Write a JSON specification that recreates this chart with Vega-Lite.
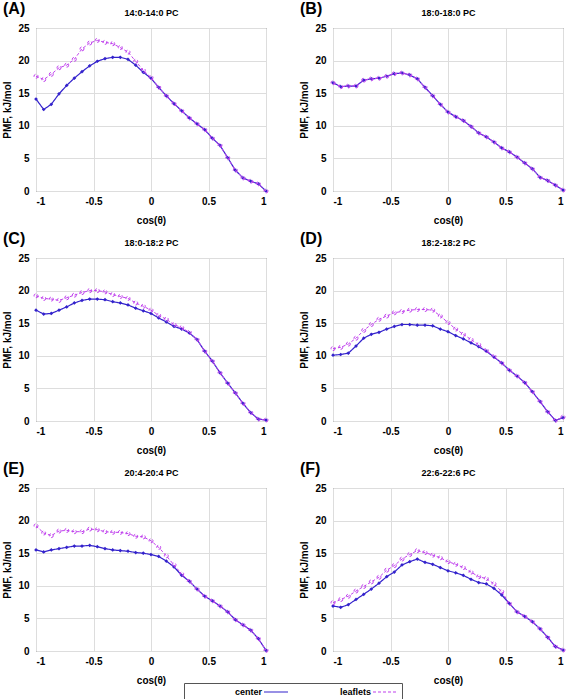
{
  "$schema": "https://vega.github.io/schema/vega-lite/v6.json",
  "padding": {"left": 2, "top": 0, "right": 4, "bottom": 0},
  "config": {
    "font": "Liberation Sans",
    "view": {"stroke": "#555", "strokeWidth": 1},
    "axis": {"labelFont": "Liberation Sans", "labelFontWeight": "bold", "labelFontSize": 10, "labelColor": "#000", "titleFont": "Liberation Sans", "titleFontWeight": "bold", "titleFontSize": 10, "titleColor": "#000", "gridColor": "#dddddd", "ticks": false, "domain": false},
    "axisX": {"labelPadding": 5, "titlePadding": 9},
    "axisY": {"labelPadding": 7, "titlePadding": 5},
    "title": {"anchor": "start", "frame": "group", "fontSize": 16, "fontWeight": "bold", "font": "Liberation Sans", "color": "#000", "dx": -33, "offset": -9},
    "legend": {"orient": "none", "legendX": 148, "legendY": 655, "direction": "horizontal", "strokeColor": "#555", "padding": 2, "labelFontWeight": "bold", "labelFontSize": 9, "labelColor": "#000", "columnPadding": 4, "symbolType": "M-2,0H2", "symbolSize": 144, "symbolOffset": 83, "labelOffset": -21, "labelAlign": "right", "symbolStrokeWidth": 1.2}
  },
  "datasets": {
    "A": [
      {"x": -1, "center": 14.1, "leaflets": 17.6}, {"x": -0.933, "center": 12.5, "leaflets": 17.1}, {"x": -0.867, "center": 13.3, "leaflets": 17.9}, {"x": -0.8, "center": 14.9, "leaflets": 18.9}, {"x": -0.733, "center": 16.2, "leaflets": 19.3}, {"x": -0.667, "center": 17.3, "leaflets": 20.2}, {"x": -0.6, "center": 18.3, "leaflets": 21.8}, {"x": -0.533, "center": 19.2, "leaflets": 22.7}, {"x": -0.467, "center": 19.9, "leaflets": 23.1}, {"x": -0.4, "center": 20.3, "leaflets": 22.8}, {"x": -0.333, "center": 20.5, "leaflets": 22.6}, {"x": -0.267, "center": 20.5, "leaflets": 22.0}, {"x": -0.2, "center": 20.2, "leaflets": 21.3}, {"x": -0.133, "center": 19.3, "leaflets": 19.9}, {"x": -0.067, "center": 18.2, "leaflets": 18.5}, {"x": 0, "center": 17.3, "leaflets": 17.4}, {"x": 0.067, "center": 15.9, "leaflets": 15.9}, {"x": 0.133, "center": 14.6, "leaflets": 14.6}, {"x": 0.2, "center": 13.4, "leaflets": 13.4}, {"x": 0.267, "center": 12.3, "leaflets": 12.3}, {"x": 0.333, "center": 11.2, "leaflets": 11.2}, {"x": 0.4, "center": 10.3, "leaflets": 10.3}, {"x": 0.467, "center": 9.4, "leaflets": 9.4}, {"x": 0.533, "center": 8.1, "leaflets": 8.1}, {"x": 0.6, "center": 7.0, "leaflets": 7.0}, {"x": 0.667, "center": 5.1, "leaflets": 5.1}, {"x": 0.733, "center": 3.2, "leaflets": 3.2}, {"x": 0.8, "center": 2.0, "leaflets": 2.0}, {"x": 0.867, "center": 1.5, "leaflets": 1.5}, {"x": 0.933, "center": 1.1, "leaflets": 1.1}, {"x": 1, "center": 0.0, "leaflets": 0.0}
    ],
    "B": [
      {"x": -1, "center": 16.6, "leaflets": 16.6}, {"x": -0.933, "center": 16.0, "leaflets": 16.0}, {"x": -0.867, "center": 16.1, "leaflets": 16.1}, {"x": -0.8, "center": 16.1, "leaflets": 16.1}, {"x": -0.733, "center": 17.0, "leaflets": 17.0}, {"x": -0.667, "center": 17.2, "leaflets": 17.2}, {"x": -0.6, "center": 17.3, "leaflets": 17.3}, {"x": -0.533, "center": 17.6, "leaflets": 17.6}, {"x": -0.467, "center": 18.0, "leaflets": 18.0}, {"x": -0.4, "center": 18.1, "leaflets": 18.1}, {"x": -0.333, "center": 17.8, "leaflets": 17.8}, {"x": -0.267, "center": 17.2, "leaflets": 17.2}, {"x": -0.2, "center": 15.9, "leaflets": 15.9}, {"x": -0.133, "center": 14.6, "leaflets": 14.6}, {"x": -0.067, "center": 13.3, "leaflets": 13.3}, {"x": 0, "center": 12.1, "leaflets": 12.1}, {"x": 0.067, "center": 11.4, "leaflets": 11.4}, {"x": 0.133, "center": 10.8, "leaflets": 10.8}, {"x": 0.2, "center": 9.9, "leaflets": 9.9}, {"x": 0.267, "center": 8.9, "leaflets": 8.9}, {"x": 0.333, "center": 8.3, "leaflets": 8.3}, {"x": 0.4, "center": 7.5, "leaflets": 7.5}, {"x": 0.467, "center": 6.6, "leaflets": 6.6}, {"x": 0.533, "center": 6.0, "leaflets": 6.0}, {"x": 0.6, "center": 5.2, "leaflets": 5.2}, {"x": 0.667, "center": 4.3, "leaflets": 4.3}, {"x": 0.733, "center": 3.4, "leaflets": 3.4}, {"x": 0.8, "center": 2.1, "leaflets": 2.1}, {"x": 0.867, "center": 1.6, "leaflets": 1.6}, {"x": 0.933, "center": 0.9, "leaflets": 0.9}, {"x": 1, "center": 0.15, "leaflets": 0.15}
    ],
    "C": [
      {"x": -1, "center": 17.0, "leaflets": 19.2}, {"x": -0.933, "center": 16.4, "leaflets": 18.8}, {"x": -0.867, "center": 16.5, "leaflets": 18.7}, {"x": -0.8, "center": 17.0, "leaflets": 18.5}, {"x": -0.733, "center": 17.5, "leaflets": 18.9}, {"x": -0.667, "center": 18.1, "leaflets": 19.3}, {"x": -0.6, "center": 18.5, "leaflets": 19.7}, {"x": -0.533, "center": 18.7, "leaflets": 20.0}, {"x": -0.467, "center": 18.7, "leaflets": 20.0}, {"x": -0.4, "center": 18.6, "leaflets": 19.8}, {"x": -0.333, "center": 18.3, "leaflets": 19.4}, {"x": -0.267, "center": 18.1, "leaflets": 19.1}, {"x": -0.2, "center": 17.8, "leaflets": 18.8}, {"x": -0.133, "center": 17.3, "leaflets": 18.1}, {"x": -0.067, "center": 16.9, "leaflets": 17.6}, {"x": 0, "center": 16.5, "leaflets": 17.0}, {"x": 0.067, "center": 15.8, "leaflets": 16.2}, {"x": 0.133, "center": 15.2, "leaflets": 15.6}, {"x": 0.2, "center": 14.5, "leaflets": 14.8}, {"x": 0.267, "center": 14.1, "leaflets": 14.3}, {"x": 0.333, "center": 13.5, "leaflets": 13.6}, {"x": 0.4, "center": 12.5, "leaflets": 12.5}, {"x": 0.467, "center": 10.7, "leaflets": 10.7}, {"x": 0.533, "center": 9.2, "leaflets": 9.2}, {"x": 0.6, "center": 7.4, "leaflets": 7.4}, {"x": 0.667, "center": 5.8, "leaflets": 5.8}, {"x": 0.733, "center": 4.3, "leaflets": 4.3}, {"x": 0.8, "center": 2.7, "leaflets": 2.7}, {"x": 0.867, "center": 1.3, "leaflets": 1.3}, {"x": 0.933, "center": 0.3, "leaflets": 0.3}, {"x": 1, "center": 0.15, "leaflets": 0.15}
    ],
    "D": [
      {"x": -1, "center": 10.1, "leaflets": 11.1}, {"x": -0.933, "center": 10.2, "leaflets": 11.3}, {"x": -0.867, "center": 10.4, "leaflets": 11.8}, {"x": -0.8, "center": 11.5, "leaflets": 12.7}, {"x": -0.733, "center": 12.7, "leaflets": 13.9}, {"x": -0.667, "center": 13.3, "leaflets": 14.8}, {"x": -0.6, "center": 13.6, "leaflets": 15.6}, {"x": -0.533, "center": 14.1, "leaflets": 16.1}, {"x": -0.467, "center": 14.5, "leaflets": 16.6}, {"x": -0.4, "center": 14.8, "leaflets": 16.8}, {"x": -0.333, "center": 14.8, "leaflets": 17.0}, {"x": -0.267, "center": 14.7, "leaflets": 17.1}, {"x": -0.2, "center": 14.7, "leaflets": 17.1}, {"x": -0.133, "center": 14.6, "leaflets": 17.0}, {"x": -0.067, "center": 14.1, "leaflets": 16.1}, {"x": 0, "center": 13.7, "leaflets": 15.1}, {"x": 0.067, "center": 13.1, "leaflets": 14.1}, {"x": 0.133, "center": 12.6, "leaflets": 13.3}, {"x": 0.2, "center": 12.0, "leaflets": 12.5}, {"x": 0.267, "center": 11.4, "leaflets": 11.7}, {"x": 0.333, "center": 10.7, "leaflets": 10.8}, {"x": 0.4, "center": 9.8, "leaflets": 9.9}, {"x": 0.467, "center": 8.9, "leaflets": 8.9}, {"x": 0.533, "center": 7.8, "leaflets": 7.8}, {"x": 0.6, "center": 6.9, "leaflets": 6.9}, {"x": 0.667, "center": 5.9, "leaflets": 5.9}, {"x": 0.733, "center": 4.5, "leaflets": 4.5}, {"x": 0.8, "center": 3.0, "leaflets": 3.0}, {"x": 0.867, "center": 1.4, "leaflets": 1.4}, {"x": 0.933, "center": 0.1, "leaflets": 0.1}, {"x": 1, "center": 0.5, "leaflets": 0.6}
    ],
    "E": [
      {"x": -1, "center": 15.5, "leaflets": 19.2}, {"x": -0.933, "center": 15.2, "leaflets": 18.1}, {"x": -0.867, "center": 15.5, "leaflets": 17.7}, {"x": -0.8, "center": 15.7, "leaflets": 18.4}, {"x": -0.733, "center": 15.9, "leaflets": 18.5}, {"x": -0.667, "center": 16.1, "leaflets": 18.3}, {"x": -0.6, "center": 16.1, "leaflets": 18.3}, {"x": -0.533, "center": 16.2, "leaflets": 18.7}, {"x": -0.467, "center": 16.0, "leaflets": 18.6}, {"x": -0.4, "center": 15.7, "leaflets": 18.3}, {"x": -0.333, "center": 15.5, "leaflets": 18.2}, {"x": -0.267, "center": 15.4, "leaflets": 18.2}, {"x": -0.2, "center": 15.3, "leaflets": 18.0}, {"x": -0.133, "center": 15.1, "leaflets": 17.6}, {"x": -0.067, "center": 15.0, "leaflets": 17.5}, {"x": 0, "center": 14.8, "leaflets": 16.9}, {"x": 0.067, "center": 14.5, "leaflets": 15.9}, {"x": 0.133, "center": 13.8, "leaflets": 14.6}, {"x": 0.2, "center": 12.9, "leaflets": 13.2}, {"x": 0.267, "center": 11.6, "leaflets": 11.8}, {"x": 0.333, "center": 10.7, "leaflets": 10.7}, {"x": 0.4, "center": 9.5, "leaflets": 9.5}, {"x": 0.467, "center": 8.4, "leaflets": 8.4}, {"x": 0.533, "center": 7.7, "leaflets": 7.7}, {"x": 0.6, "center": 6.9, "leaflets": 6.9}, {"x": 0.667, "center": 6.0, "leaflets": 6.0}, {"x": 0.733, "center": 4.8, "leaflets": 4.8}, {"x": 0.8, "center": 4.0, "leaflets": 4.0}, {"x": 0.867, "center": 3.2, "leaflets": 3.2}, {"x": 0.933, "center": 1.9, "leaflets": 1.9}, {"x": 1, "center": 0.1, "leaflets": 0.1}
    ],
    "F": [
      {"x": -1, "center": 6.9, "leaflets": 7.4}, {"x": -0.933, "center": 6.7, "leaflets": 7.9}, {"x": -0.867, "center": 7.1, "leaflets": 8.4}, {"x": -0.8, "center": 7.9, "leaflets": 9.2}, {"x": -0.733, "center": 8.7, "leaflets": 9.9}, {"x": -0.667, "center": 9.5, "leaflets": 10.6}, {"x": -0.6, "center": 10.4, "leaflets": 11.3}, {"x": -0.533, "center": 11.4, "leaflets": 12.4}, {"x": -0.467, "center": 12.1, "leaflets": 13.1}, {"x": -0.4, "center": 13.2, "leaflets": 14.1}, {"x": -0.333, "center": 13.7, "leaflets": 14.8}, {"x": -0.267, "center": 14.1, "leaflets": 15.4}, {"x": -0.2, "center": 13.6, "leaflets": 15.1}, {"x": -0.133, "center": 13.3, "leaflets": 14.7}, {"x": -0.067, "center": 12.8, "leaflets": 14.3}, {"x": 0, "center": 12.3, "leaflets": 13.7}, {"x": 0.067, "center": 12.0, "leaflets": 13.3}, {"x": 0.133, "center": 11.6, "leaflets": 12.8}, {"x": 0.2, "center": 11.0, "leaflets": 12.1}, {"x": 0.267, "center": 10.5, "leaflets": 11.4}, {"x": 0.333, "center": 10.3, "leaflets": 11.1}, {"x": 0.4, "center": 9.6, "leaflets": 10.3}, {"x": 0.467, "center": 8.6, "leaflets": 9.1}, {"x": 0.533, "center": 7.3, "leaflets": 7.3}, {"x": 0.6, "center": 6.0, "leaflets": 6.0}, {"x": 0.667, "center": 5.3, "leaflets": 5.3}, {"x": 0.733, "center": 4.5, "leaflets": 4.5}, {"x": 0.8, "center": 3.4, "leaflets": 3.4}, {"x": 0.867, "center": 2.1, "leaflets": 2.1}, {"x": 0.933, "center": 0.7, "leaflets": 0.7}, {"x": 1, "center": 0.15, "leaflets": 0.15}
    ]
  },
  "columns": 2,
  "bounds": "flush",
  "spacing": {"row": 67, "column": 67},
  "resolve": {"scale": {"color": "shared", "strokeDash": "shared"}, "legend": {"color": "shared", "strokeDash": "shared"}},
  "concat": [
    {
      "title": {"text": "(A)"}, "width": 230, "height": 163, "data": {"name": "A"},
      "transform": [{"fold": ["center", "leaflets"], "as": ["series", "pmf"]}],
      "layer": [
        {"transform": [{"filter": "datum.series === 'center'"}],
         "mark": {"type": "line", "strokeWidth": 1.2, "point": {"filled": true, "shape": "diamond", "size": 14}},
         "encoding": {
           "x": {"field": "x", "type": "quantitative", "scale": {"domain": [-1, 1]}, "axis": {"values": [-1, -0.5, 0, 0.5, 1], "labelExpr": "datum.value + ''", "title": "cos(θ)"}},
           "y": {"field": "pmf", "type": "quantitative", "scale": {"domain": [0, 25]}, "axis": {"values": [0, 5, 10, 15, 20, 25], "title": "PMF, kJ/mol"}},
           "color": {"field": "series", "type": "nominal", "scale": {"domain": ["center", "leaflets"], "range": ["#3322cc", "#c040ee"]}, "legend": {"title": null}},
           "strokeDash": {"field": "series", "type": "nominal", "scale": {"domain": ["center", "leaflets"], "range": [[1, 0], [3, 2]]}, "legend": {"title": null}}
         }},
        {"transform": [{"filter": "datum.series === 'leaflets'"}],
         "mark": {"type": "line", "strokeWidth": 1, "point": {"filled": false, "shape": "circle", "size": 16, "strokeWidth": 1}},
         "encoding": {
           "x": {"field": "x", "type": "quantitative", "scale": {"domain": [-1, 1]}, "axis": {"orient": "top", "labels": false, "grid": false, "title": "14:0-14:0 PC", "titleFontSize": 9, "titlePadding": 11}},
           "y": {"field": "pmf", "type": "quantitative", "scale": {"domain": [0, 25]}, "axis": {"values": [0, 5, 10, 15, 20, 25], "title": "PMF, kJ/mol"}},
           "color": {"field": "series", "type": "nominal", "scale": {"domain": ["center", "leaflets"], "range": ["#3322cc", "#c040ee"]}, "legend": {"title": null}},
           "strokeDash": {"field": "series", "type": "nominal", "scale": {"domain": ["center", "leaflets"], "range": [[1, 0], [3, 2]]}, "legend": {"title": null}}
         }}
      ],
      "resolve": {"scale": {"x": "independent"}}
    },
    {
      "title": {"text": "(B)"}, "width": 230, "height": 163, "data": {"name": "B"},
      "transform": [{"fold": ["center", "leaflets"], "as": ["series", "pmf"]}],
      "layer": [
        {"transform": [{"filter": "datum.series === 'center'"}],
         "mark": {"type": "line", "strokeWidth": 1.2, "point": {"filled": true, "shape": "diamond", "size": 14}},
         "encoding": {
           "x": {"field": "x", "type": "quantitative", "scale": {"domain": [-1, 1]}, "axis": {"values": [-1, -0.5, 0, 0.5, 1], "labelExpr": "datum.value + ''", "title": "cos(θ)"}},
           "y": {"field": "pmf", "type": "quantitative", "scale": {"domain": [0, 25]}, "axis": {"values": [0, 5, 10, 15, 20, 25], "title": "PMF, kJ/mol"}},
           "color": {"field": "series", "type": "nominal", "scale": {"domain": ["center", "leaflets"], "range": ["#3322cc", "#c040ee"]}, "legend": {"title": null}},
           "strokeDash": {"field": "series", "type": "nominal", "scale": {"domain": ["center", "leaflets"], "range": [[1, 0], [3, 2]]}, "legend": {"title": null}}
         }},
        {"transform": [{"filter": "datum.series === 'leaflets'"}],
         "mark": {"type": "line", "strokeWidth": 1, "point": {"filled": false, "shape": "circle", "size": 16, "strokeWidth": 1}},
         "encoding": {
           "x": {"field": "x", "type": "quantitative", "scale": {"domain": [-1, 1]}, "axis": {"orient": "top", "labels": false, "grid": false, "title": "18:0-18:0 PC", "titleFontSize": 9, "titlePadding": 11}},
           "y": {"field": "pmf", "type": "quantitative", "scale": {"domain": [0, 25]}, "axis": {"values": [0, 5, 10, 15, 20, 25], "title": "PMF, kJ/mol"}},
           "color": {"field": "series", "type": "nominal", "scale": {"domain": ["center", "leaflets"], "range": ["#3322cc", "#c040ee"]}, "legend": {"title": null}},
           "strokeDash": {"field": "series", "type": "nominal", "scale": {"domain": ["center", "leaflets"], "range": [[1, 0], [3, 2]]}, "legend": {"title": null}}
         }}
      ],
      "resolve": {"scale": {"x": "independent"}}
    },
    {
      "title": {"text": "(C)"}, "width": 230, "height": 163, "data": {"name": "C"},
      "transform": [{"fold": ["center", "leaflets"], "as": ["series", "pmf"]}],
      "layer": [
        {"transform": [{"filter": "datum.series === 'center'"}],
         "mark": {"type": "line", "strokeWidth": 1.2, "point": {"filled": true, "shape": "diamond", "size": 14}},
         "encoding": {
           "x": {"field": "x", "type": "quantitative", "scale": {"domain": [-1, 1]}, "axis": {"values": [-1, -0.5, 0, 0.5, 1], "labelExpr": "datum.value + ''", "title": "cos(θ)"}},
           "y": {"field": "pmf", "type": "quantitative", "scale": {"domain": [0, 25]}, "axis": {"values": [0, 5, 10, 15, 20, 25], "title": "PMF, kJ/mol"}},
           "color": {"field": "series", "type": "nominal", "scale": {"domain": ["center", "leaflets"], "range": ["#3322cc", "#c040ee"]}, "legend": {"title": null}},
           "strokeDash": {"field": "series", "type": "nominal", "scale": {"domain": ["center", "leaflets"], "range": [[1, 0], [3, 2]]}, "legend": {"title": null}}
         }},
        {"transform": [{"filter": "datum.series === 'leaflets'"}],
         "mark": {"type": "line", "strokeWidth": 1, "point": {"filled": false, "shape": "circle", "size": 16, "strokeWidth": 1}},
         "encoding": {
           "x": {"field": "x", "type": "quantitative", "scale": {"domain": [-1, 1]}, "axis": {"orient": "top", "labels": false, "grid": false, "title": "18:0-18:2 PC", "titleFontSize": 9, "titlePadding": 11}},
           "y": {"field": "pmf", "type": "quantitative", "scale": {"domain": [0, 25]}, "axis": {"values": [0, 5, 10, 15, 20, 25], "title": "PMF, kJ/mol"}},
           "color": {"field": "series", "type": "nominal", "scale": {"domain": ["center", "leaflets"], "range": ["#3322cc", "#c040ee"]}, "legend": {"title": null}},
           "strokeDash": {"field": "series", "type": "nominal", "scale": {"domain": ["center", "leaflets"], "range": [[1, 0], [3, 2]]}, "legend": {"title": null}}
         }}
      ],
      "resolve": {"scale": {"x": "independent"}}
    },
    {
      "title": {"text": "(D)"}, "width": 230, "height": 163, "data": {"name": "D"},
      "transform": [{"fold": ["center", "leaflets"], "as": ["series", "pmf"]}],
      "layer": [
        {"transform": [{"filter": "datum.series === 'center'"}],
         "mark": {"type": "line", "strokeWidth": 1.2, "point": {"filled": true, "shape": "diamond", "size": 14}},
         "encoding": {
           "x": {"field": "x", "type": "quantitative", "scale": {"domain": [-1, 1]}, "axis": {"values": [-1, -0.5, 0, 0.5, 1], "labelExpr": "datum.value + ''", "title": "cos(θ)"}},
           "y": {"field": "pmf", "type": "quantitative", "scale": {"domain": [0, 25]}, "axis": {"values": [0, 5, 10, 15, 20, 25], "title": "PMF, kJ/mol"}},
           "color": {"field": "series", "type": "nominal", "scale": {"domain": ["center", "leaflets"], "range": ["#3322cc", "#c040ee"]}, "legend": {"title": null}},
           "strokeDash": {"field": "series", "type": "nominal", "scale": {"domain": ["center", "leaflets"], "range": [[1, 0], [3, 2]]}, "legend": {"title": null}}
         }},
        {"transform": [{"filter": "datum.series === 'leaflets'"}],
         "mark": {"type": "line", "strokeWidth": 1, "point": {"filled": false, "shape": "circle", "size": 16, "strokeWidth": 1}},
         "encoding": {
           "x": {"field": "x", "type": "quantitative", "scale": {"domain": [-1, 1]}, "axis": {"orient": "top", "labels": false, "grid": false, "title": "18:2-18:2 PC", "titleFontSize": 9, "titlePadding": 11}},
           "y": {"field": "pmf", "type": "quantitative", "scale": {"domain": [0, 25]}, "axis": {"values": [0, 5, 10, 15, 20, 25], "title": "PMF, kJ/mol"}},
           "color": {"field": "series", "type": "nominal", "scale": {"domain": ["center", "leaflets"], "range": ["#3322cc", "#c040ee"]}, "legend": {"title": null}},
           "strokeDash": {"field": "series", "type": "nominal", "scale": {"domain": ["center", "leaflets"], "range": [[1, 0], [3, 2]]}, "legend": {"title": null}}
         }}
      ],
      "resolve": {"scale": {"x": "independent"}}
    },
    {
      "title": {"text": "(E)"}, "width": 230, "height": 163, "data": {"name": "E"},
      "transform": [{"fold": ["center", "leaflets"], "as": ["series", "pmf"]}],
      "layer": [
        {"transform": [{"filter": "datum.series === 'center'"}],
         "mark": {"type": "line", "strokeWidth": 1.2, "point": {"filled": true, "shape": "diamond", "size": 14}},
         "encoding": {
           "x": {"field": "x", "type": "quantitative", "scale": {"domain": [-1, 1]}, "axis": {"values": [-1, -0.5, 0, 0.5, 1], "labelExpr": "datum.value + ''", "title": "cos(θ)"}},
           "y": {"field": "pmf", "type": "quantitative", "scale": {"domain": [0, 25]}, "axis": {"values": [0, 5, 10, 15, 20, 25], "title": "PMF, kJ/mol"}},
           "color": {"field": "series", "type": "nominal", "scale": {"domain": ["center", "leaflets"], "range": ["#3322cc", "#c040ee"]}, "legend": {"title": null}},
           "strokeDash": {"field": "series", "type": "nominal", "scale": {"domain": ["center", "leaflets"], "range": [[1, 0], [3, 2]]}, "legend": {"title": null}}
         }},
        {"transform": [{"filter": "datum.series === 'leaflets'"}],
         "mark": {"type": "line", "strokeWidth": 1, "point": {"filled": false, "shape": "circle", "size": 16, "strokeWidth": 1}},
         "encoding": {
           "x": {"field": "x", "type": "quantitative", "scale": {"domain": [-1, 1]}, "axis": {"orient": "top", "labels": false, "grid": false, "title": "20:4-20:4 PC", "titleFontSize": 9, "titlePadding": 11}},
           "y": {"field": "pmf", "type": "quantitative", "scale": {"domain": [0, 25]}, "axis": {"values": [0, 5, 10, 15, 20, 25], "title": "PMF, kJ/mol"}},
           "color": {"field": "series", "type": "nominal", "scale": {"domain": ["center", "leaflets"], "range": ["#3322cc", "#c040ee"]}, "legend": {"title": null}},
           "strokeDash": {"field": "series", "type": "nominal", "scale": {"domain": ["center", "leaflets"], "range": [[1, 0], [3, 2]]}, "legend": {"title": null}}
         }}
      ],
      "resolve": {"scale": {"x": "independent"}}
    },
    {
      "title": {"text": "(F)"}, "width": 230, "height": 163, "data": {"name": "F"},
      "transform": [{"fold": ["center", "leaflets"], "as": ["series", "pmf"]}],
      "layer": [
        {"transform": [{"filter": "datum.series === 'center'"}],
         "mark": {"type": "line", "strokeWidth": 1.2, "point": {"filled": true, "shape": "diamond", "size": 14}},
         "encoding": {
           "x": {"field": "x", "type": "quantitative", "scale": {"domain": [-1, 1]}, "axis": {"values": [-1, -0.5, 0, 0.5, 1], "labelExpr": "datum.value + ''", "title": "cos(θ)"}},
           "y": {"field": "pmf", "type": "quantitative", "scale": {"domain": [0, 25]}, "axis": {"values": [0, 5, 10, 15, 20, 25], "title": "PMF, kJ/mol"}},
           "color": {"field": "series", "type": "nominal", "scale": {"domain": ["center", "leaflets"], "range": ["#3322cc", "#c040ee"]}, "legend": {"title": null}},
           "strokeDash": {"field": "series", "type": "nominal", "scale": {"domain": ["center", "leaflets"], "range": [[1, 0], [3, 2]]}, "legend": {"title": null}}
         }},
        {"transform": [{"filter": "datum.series === 'leaflets'"}],
         "mark": {"type": "line", "strokeWidth": 1, "point": {"filled": false, "shape": "circle", "size": 16, "strokeWidth": 1}},
         "encoding": {
           "x": {"field": "x", "type": "quantitative", "scale": {"domain": [-1, 1]}, "axis": {"orient": "top", "labels": false, "grid": false, "title": "22:6-22:6 PC", "titleFontSize": 9, "titlePadding": 11}},
           "y": {"field": "pmf", "type": "quantitative", "scale": {"domain": [0, 25]}, "axis": {"values": [0, 5, 10, 15, 20, 25], "title": "PMF, kJ/mol"}},
           "color": {"field": "series", "type": "nominal", "scale": {"domain": ["center", "leaflets"], "range": ["#3322cc", "#c040ee"]}, "legend": {"title": null}},
           "strokeDash": {"field": "series", "type": "nominal", "scale": {"domain": ["center", "leaflets"], "range": [[1, 0], [3, 2]]}, "legend": {"title": null}}
         }}
      ],
      "resolve": {"scale": {"x": "independent"}}
    }
  ]
}
